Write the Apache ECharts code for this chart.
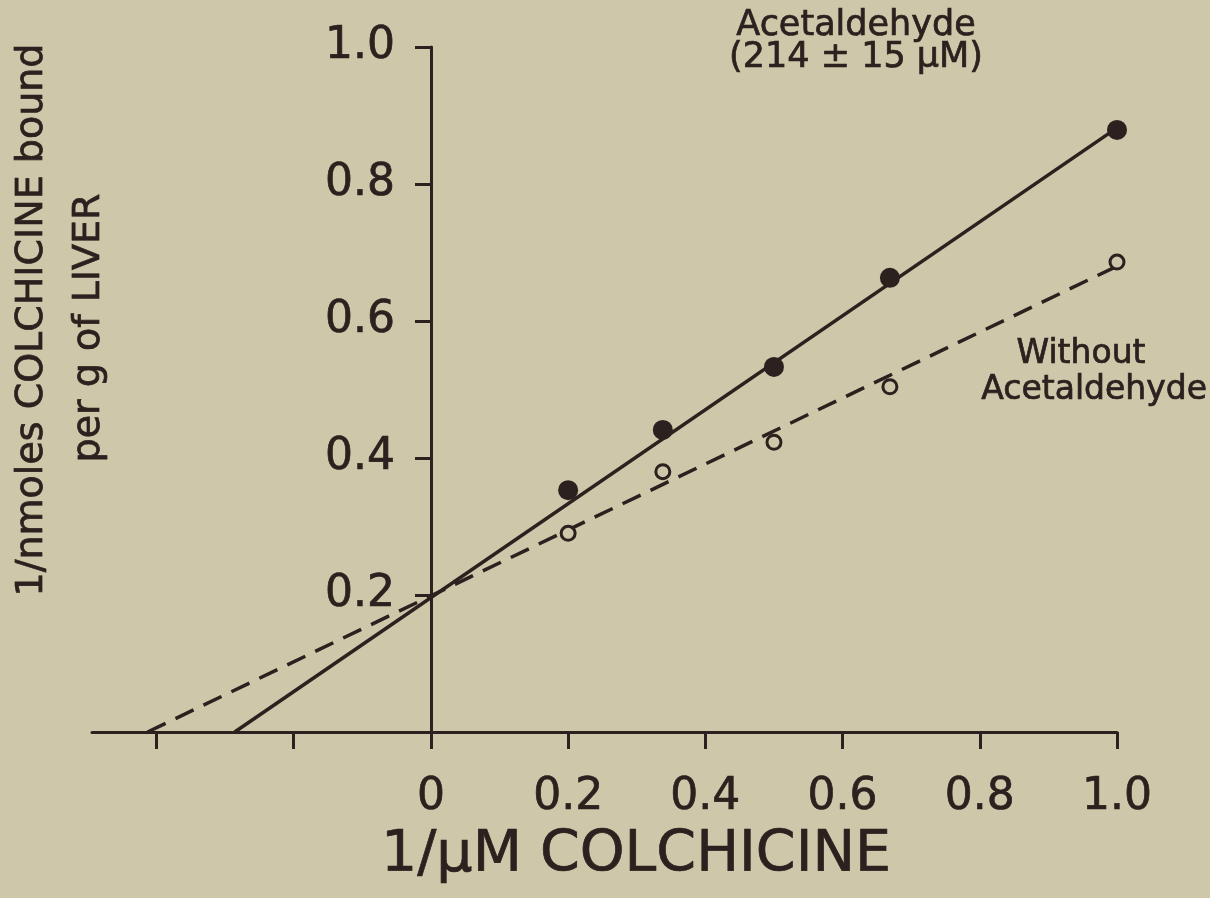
<!DOCTYPE html>
<html>
<head>
<meta charset="utf-8">
<script src="https://cdn.jsdelivr.net/npm/echarts@6/dist/echarts.min.js"></script>
<style>
html,body{margin:0;padding:0;background:#cec7a9;}
#chart{width:1210px;height:898px;}
</style>
</head>
<body>
<div id="chart"></div>
<script>
// ---- data ----
const xValues = [0.2, 0.338, 0.5, 0.669, 1.0];            // 1/µM colchicine
const withAcetaldehyde = [0.353, 0.441, 0.533, 0.663, 0.879];
const withoutAcetaldehyde = [0.290, 0.380, 0.423, 0.504, 0.686];
const fitWithX = [-0.286, 1.0];
const fitWithY = [0.0, 0.882];
const fitWithoutX = [-0.413, 1.0];
const fitWithoutY = [0.0, 0.680];
const xTickValues = [-0.4, -0.2, 0, 0.2, 0.4, 0.6, 0.8, 1.0];
const xLabelValues = [0, 0.2, 0.4, 0.6, 0.8, 1.0];
const yTickValues = [0.2, 0.4, 0.6, 0.8, 1.0];

const INK = '#2b211e';
const BG = '#cec7a9';
const FONT = 'DejaVu Sans';

const X_MIN = -0.494, X_MAX = 1.0;
const GRID_LEFT = 92, GRID_RIGHT = 93;
const gridWidth = 1210 - GRID_LEFT - GRID_RIGHT;
const yAxisShift = -Math.round(gridWidth * (0 - X_MIN) / (X_MAX - X_MIN));

const zip = (a, b) => a.map((v, i) => [v, b[i]]);
const fmt = v => (v === 0 ? '0' : v.toFixed(1));

const txt = (text, x, y, size, align, rot) => ({
  type: 'text', x: x, y: y, rotation: rot || 0,
  style: {text: text, fill: INK, stroke: INK, lineWidth: 0.7, font: size + 'px ' + FONT,
    textAlign: align || 'center', textVerticalAlign: 'middle'}
});

const chart = echarts.init(document.getElementById('chart'), null, {renderer: 'canvas'});
chart.setOption({
  backgroundColor: BG,
  animation: false,
  grid: {left: GRID_LEFT, right: GRID_RIGHT, top: 47, bottom: 166, containLabel: false, outerBoundsMode: 'none'},
  xAxis: {
    type: 'value', min: X_MIN, max: X_MAX,
    splitLine: {show: false},
    axisLine: {show: true, onZero: false, lineStyle: {color: INK, width: 3}},
    axisTick: {show: true, customValues: xTickValues, length: 17, inside: false, lineStyle: {color: INK, width: 3}},
    axisLabel: {show: true, customValues: xLabelValues, formatter: fmt, margin: 44,
      color: INK, fontFamily: FONT, fontSize: 44, textBorderColor: INK, textBorderWidth: 0.7}
  },
  yAxis: {
    type: 'value', min: 0, max: 1.0, offset: yAxisShift,
    splitLine: {show: false},
    axisLine: {show: true, onZero: false, lineStyle: {color: INK, width: 3}},
    axisTick: {show: true, customValues: yTickValues, length: 16, lineStyle: {color: INK, width: 3}},
    axisLabel: {show: true, customValues: yTickValues, formatter: fmt, margin: 36,
      color: INK, fontFamily: FONT, fontSize: 44, textBorderColor: INK, textBorderWidth: 0.7}
  },
  series: [
    {type: 'line', data: zip(fitWithX, fitWithY), symbol: 'none', z: 2,
     lineStyle: {color: INK, width: 3.5, type: 'solid'}},
    {type: 'line', data: zip(fitWithoutX, fitWithoutY), symbol: 'none', z: 2,
     lineStyle: {color: INK, width: 3.5, type: [20, 11]}},
    {type: 'scatter', data: zip(xValues, withAcetaldehyde), symbol: 'circle', symbolSize: 20, z: 5,
     itemStyle: {color: INK, opacity: 1}},
    {type: 'scatter', data: zip(xValues, withoutAcetaldehyde), symbol: 'circle', symbolSize: 14, z: 5,
     itemStyle: {color: BG, borderColor: INK, borderWidth: 3, opacity: 1}}
  ],
  graphic: [
    txt('Acetaldehyde', 856, 26, 35),
    txt('(214 ± 15 μM)', 856, 58, 35),
    txt('Without', 1081, 354, 33),
    txt('Acetaldehyde', 1207, 390, 33, 'right'),
    txt('1/μM COLCHICINE', 636, 856, 57),
    txt('1/nmoles COLCHICINE bound', 32, 320, 38, 'center', Math.PI / 2),
    txt('per g of LIVER', 89, 328, 38, 'center', Math.PI / 2)
  ]
});
</script>
</body>
</html>
